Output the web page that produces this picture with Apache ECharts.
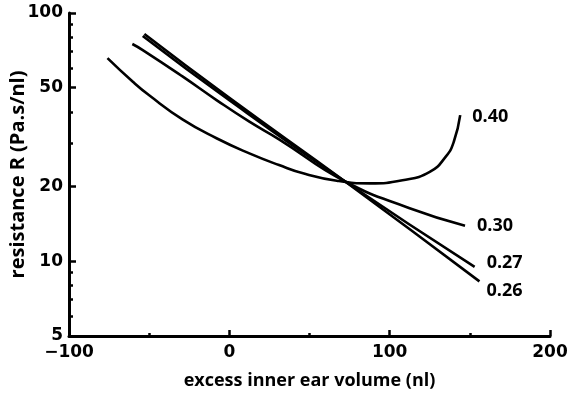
<!DOCTYPE html>
<html>
<head>
<meta charset="utf-8">
<script src="https://cdn.jsdelivr.net/npm/echarts@6/dist/echarts.min.js"></script>
<style>html,body{margin:0;padding:0;background:#fff}#c{width:575px;height:400px}</style>
</head>
<body>
<div id="c"></div>
<script>
// Data
const x40 = [-76, -60, -50, -29, -8, 12.5, 31, 46, 67, 87.5, 108, 125, 135, 140, 144];
const y40 = [65.8, 52.7, 46.6, 37.2, 31.3, 27.2, 24.4, 22.6, 21.1, 20.6, 21.2, 22.9, 26.4, 30.3, 38.8];
const x30 = [-60.5, -54, -29, -8, 12.5, 31, 72, 112, 147];
const y30 = [75.0, 70.9, 55.4, 44.6, 36.5, 31.0, 21.0, 16.4, 13.9];
const x27 = [-54, 0, 72, 153];
const y27 = [80.8, 44.5, 21.0, 9.5];
const x26 = [-53, 0, 72, 156];
const y26 = [82.3, 45.5, 21.0, 8.3];
const seriesNames = ['0.40', '0.30', '0.27', '0.26'];
const yMajor = [5, 10, 20, 50, 100];
const yMinor = [6, 7, 8, 9, 30, 40, 60, 70, 80, 90];

const zip = (xs, ys) => xs.map((v, i) => [v, ys[i]]);
const FONT = 'Open Sans';
const NUMFONT = 'DejaVu Sans';
const labelOffsets = [[12, 2], [12, 0], [12, -4], [7, 10]];
const datasets = [zip(x40, y40), zip(x30, y30), zip(x27, y27), zip(x26, y26)];

const chart = echarts.init(document.getElementById('c'), null, {renderer: 'canvas'});
chart.setOption({
  animation: false,
  backgroundColor: '#fff',
  grid: {left: 69, right: 25, top: 13, bottom: 64, containLabel: false, outerBoundsMode: 'none'},
  xAxis: {
    type: 'value', min: -100, max: 200, interval: 100,
    name: 'excess inner ear volume (nl)', nameLocation: 'middle', nameGap: 36, nameMoveOverlap: false,
    nameTextStyle: {fontFamily: FONT, fontSize: 18, fontWeight: 'bold', color: '#000'},
    axisLine: {show: true, onZero: false, lineStyle: {color: '#000', width: 3}},
    axisTick: {show: true, inside: true, length: 6, lineStyle: {color: '#000', width: 2.5}},
    minorTick: {show: true, splitNumber: 2, length: 3, lineStyle: {color: '#000', width: 2.5}},
    splitLine: {show: false},
    axisLabel: {fontFamily: NUMFONT, fontSize: 17, fontWeight: 'bold', color: '#000', margin: 8,
      formatter: v => (v < 0 ? '\u2212' + Math.abs(v) : String(v))}
  },
  yAxis: [{
    type: 'log', logBase: 10, min: 5, max: 100,
    name: 'resistance R (Pa.s/nl)', nameLocation: 'middle', nameGap: 41, nameMoveOverlap: false,
    nameTextStyle: {fontFamily: FONT, fontSize: 20, fontWeight: 'bold', color: '#000'},
    axisLine: {show: true, onZero: false, lineStyle: {color: '#000', width: 3}},
    axisTick: {show: true, inside: true, length: 7, customValues: yMajor, lineStyle: {color: '#000', width: 2.5}},
    splitLine: {show: false},
    axisLabel: {fontFamily: NUMFONT, fontSize: 17, fontWeight: 'bold', color: '#000', margin: 6, customValues: yMajor}
  }, {
    type: 'log', logBase: 10, min: 5, max: 100, position: 'left', offset: 0,
    axisLine: {show: false, onZero: false},
    axisTick: {show: true, inside: true, length: 4, customValues: yMinor, lineStyle: {color: '#000', width: 2.5}},
    axisLabel: {show: false},
    splitLine: {show: false}
  }],
  series: datasets.map((d, i) => ({
    type: 'line', name: seriesNames[i], data: d, smooth: 0.5,
    showSymbol: false, symbol: 'none', yAxisIndex: 0,
    lineStyle: {color: '#000', width: 2.6},
    endLabel: {show: true, formatter: seriesNames[i], distance: 0, offset: labelOffsets[i],
      fontFamily: FONT, fontSize: 18, fontWeight: 'bold', color: '#000'}
  }))
});
</script>
</body>
</html>
